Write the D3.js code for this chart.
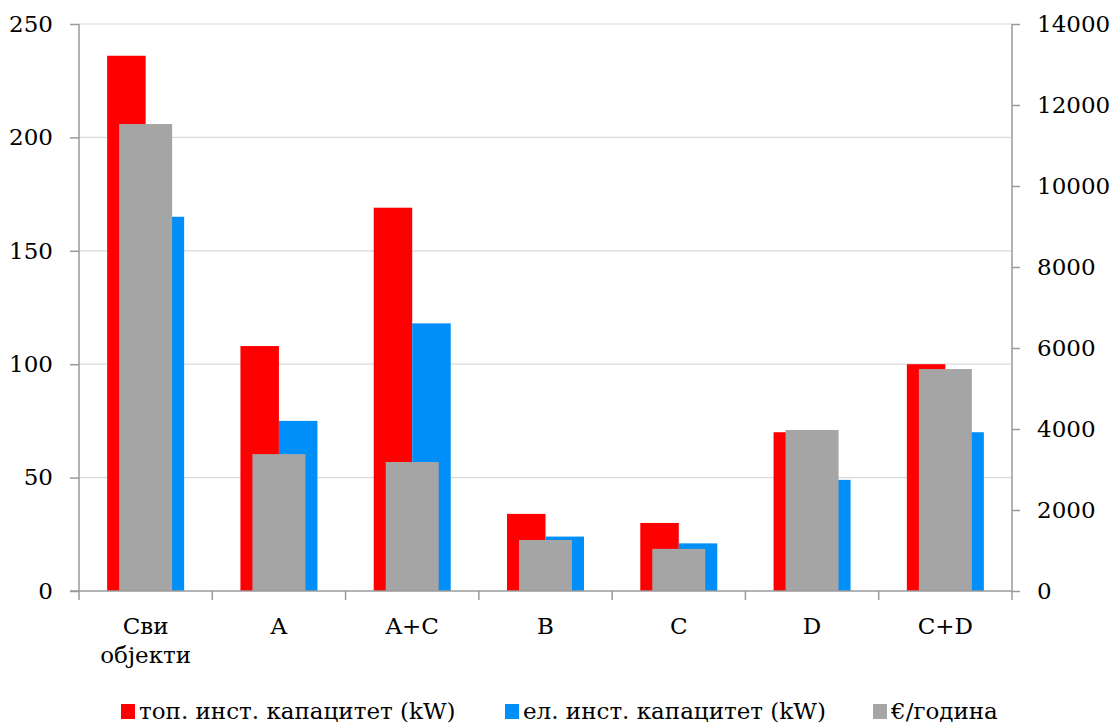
<!DOCTYPE html>
<html>
<head>
<meta charset="utf-8">
<script src="https://cdn.jsdelivr.net/npm/d3@7"></script>
<style>
  body { margin: 0; background: #fff; }
  text { font-family: "DejaVu Serif", serif; fill: #000; }
</style>
</head>
<body>
<div id="chart"></div>
<script>
// Data ////////////////////////////////////////////////////////////////////
const categories = ['Сви\nобјекти', 'A', 'A+C', 'B', 'C', 'D', 'C+D'];
const heatCapacity = [236, 108, 169, 34, 30, 70, 100];   // топ. инст. капацитет (kW)
const elecCapacity = [165, 75, 118, 24, 21, 49, 70];     // ел. инст. капацитет (kW)
const eurosPerYear = [11530, 3380, 3185, 1260, 1040, 3975, 5480]; // €/година
const leftTicks = [0, 50, 100, 150, 200, 250];
const rightTicks = [0, 2000, 4000, 6000, 8000, 10000, 12000, 14000];
const seriesNames = ['топ. инст. капацитет (kW)', 'ел. инст. капацитет (kW)', '€/година'];
const seriesColors = ['#ff0000', '#008ef8', '#a5a5a5'];

// Chart ///////////////////////////////////////////////////////////////////
const W = 1113, H = 726;
const plot = {left: 79, right: 1012, top: 24, bottom: 591};
const fontSize = '23px';

const svg = d3.select('#chart').append('svg')
  .attr('width', W)
  .attr('height', H);

const x = d3.scaleBand()
  .domain(d3.range(categories.length))
  .range([plot.left, plot.right]);

// red + blue clustered bars
const xInner = d3.scaleBand()
  .domain([0, 1])
  .range([0, 77]);
const innerOffset = (x.bandwidth() - 77) / 2;
const grayWidth = 53;

const yLeft = d3.scaleLinear().domain([0, 250]).range([plot.bottom, plot.top]);
const yRight = d3.scaleLinear().domain([0, 14000]).range([plot.bottom, plot.top]);

// gridlines
svg.append('g')
  .selectAll('line')
  .data(leftTicks.filter(d => d > 0))
  .enter().append('line')
  .attr('x1', plot.left).attr('x2', plot.right)
  .attr('y1', d => yLeft(d)).attr('y2', d => yLeft(d))
  .attr('stroke', '#dadada')
  .attr('stroke-width', 1.2);

// red bars
svg.append('g')
  .selectAll('rect')
  .data(heatCapacity)
  .enter().append('rect')
  .attr('x', (d, i) => x(i) + innerOffset + xInner(0))
  .attr('width', xInner.bandwidth())
  .attr('y', d => yLeft(d))
  .attr('height', d => plot.bottom - yLeft(d))
  .attr('fill', seriesColors[0]);

// blue bars
svg.append('g')
  .selectAll('rect')
  .data(elecCapacity)
  .enter().append('rect')
  .attr('x', (d, i) => x(i) + innerOffset + xInner(1))
  .attr('width', xInner.bandwidth())
  .attr('y', d => yLeft(d))
  .attr('height', d => plot.bottom - yLeft(d))
  .attr('fill', seriesColors[1]);

// gray bars (secondary axis)
svg.append('g')
  .selectAll('rect')
  .data(eurosPerYear)
  .enter().append('rect')
  .attr('x', (d, i) => x(i) + (x.bandwidth() - grayWidth) / 2)
  .attr('width', grayWidth)
  .attr('y', d => yRight(d))
  .attr('height', d => plot.bottom - yRight(d))
  .attr('fill', seriesColors[2]);

const axisColor = '#9a9a9a';

// left axis
const leftAxis = svg.append('g')
  .attr('transform', `translate(${plot.left},0)`)
  .call(d3.axisLeft(yLeft).tickValues(leftTicks).tickSize(9).tickPadding(17));

// right axis
const rightAxis = svg.append('g')
  .attr('transform', `translate(${plot.right},0)`)
  .call(d3.axisRight(yRight).tickValues(rightTicks).tickFormat(d3.format('d'))
    .tickSize(8).tickPadding(17));

// bottom axis
const bottomAxis = svg.append('g')
  .attr('transform', `translate(0,${plot.bottom})`);
bottomAxis.append('line')
  .attr('x1', plot.left - 9).attr('x2', plot.right)
  .attr('stroke', axisColor).attr('stroke-width', 1.5);
bottomAxis.selectAll('.cat-tick')
  .data(d3.range(categories.length + 1))
  .enter().append('line')
  .attr('class', 'cat-tick')
  .attr('x1', i => plot.left + i * x.step())
  .attr('x2', i => plot.left + i * x.step())
  .attr('y1', 0).attr('y2', 9)
  .attr('stroke', axisColor).attr('stroke-width', 1.5);

[leftAxis, rightAxis].forEach(ax => {
  ax.select('.domain').attr('stroke', axisColor).attr('stroke-width', 1.5);
  ax.selectAll('.tick line').attr('stroke', axisColor).attr('stroke-width', 1.5);
  ax.selectAll('.tick text')
    .style('font-family', '"DejaVu Serif", serif')
    .style('font-size', fontSize)
    .attr('fill', '#000');
});
leftAxis.select('.domain').attr('d', `M0,${plot.top}V${plot.bottom}`);
rightAxis.select('.domain').attr('d', `M0,${plot.top}V${plot.bottom}`);

// category labels
const catLabels = svg.append('g')
  .selectAll('text')
  .data(categories)
  .enter().append('text')
  .attr('x', (d, i) => x(i) + x.bandwidth() / 2)
  .attr('y', 634)
  .attr('text-anchor', 'middle')
  .style('font-size', fontSize);
catLabels.each(function(d) {
  const lines = d.split('\n');
  d3.select(this).selectAll('tspan')
    .data(lines)
    .enter().append('tspan')
    .attr('x', d3.select(this).attr('x'))
    .attr('dy', (l, j) => j === 0 ? 0 : 29)
    .text(l => l);
});

// legend
const legendX = [121, 505, 873];
const legend = svg.append('g')
  .selectAll('g')
  .data(seriesNames)
  .enter().append('g')
  .attr('transform', (d, i) => `translate(${legendX[i]},704)`);
legend.append('rect')
  .attr('width', 14).attr('height', 15)
  .attr('fill', (d, i) => seriesColors[i]);
legend.append('text')
  .attr('x', 18)
  .attr('y', 15)
  .style('font-size', fontSize)
  .text(d => d);
</script>
</body>
</html>
